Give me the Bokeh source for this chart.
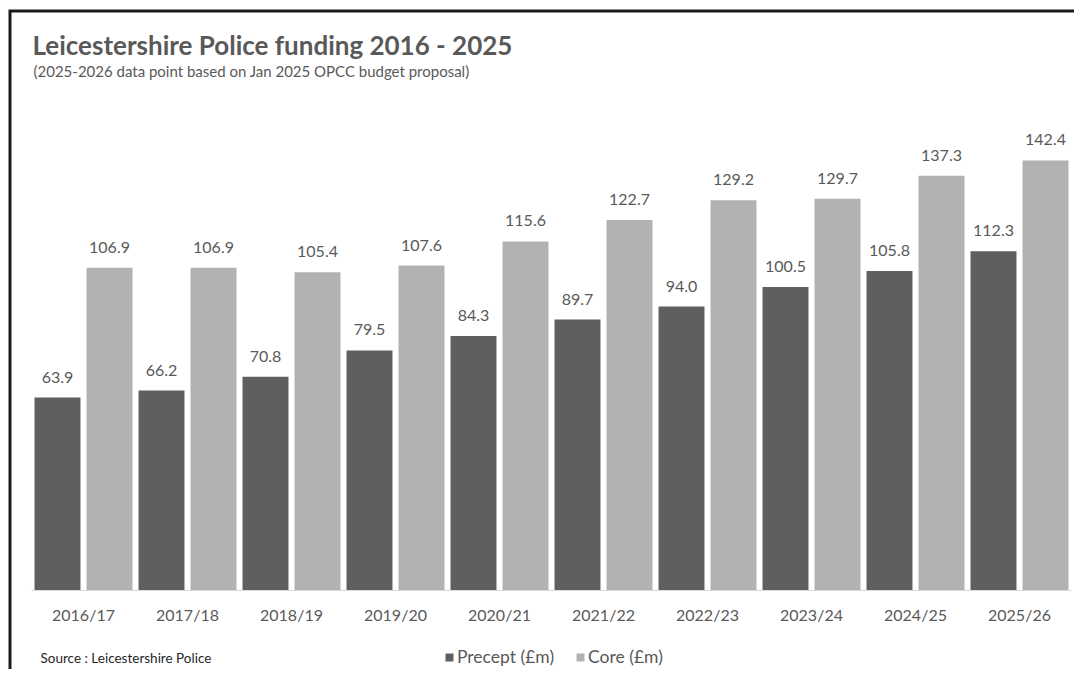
from bokeh.plotting import figure
from bokeh.models import (ColumnDataSource, Range1d, Label, Legend, LegendItem,
                          LinearAxis, FixedTicker)
from bokeh.embed import file_html
from bokeh.resources import INLINE
from bokeh.core.properties import value

years = ["2016/17", "2017/18", "2018/19", "2019/20", "2020/21",
         "2021/22", "2022/23", "2023/24", "2024/25", "2025/26"]
precept = [63.9, 66.2, 70.8, 79.5, 84.3, 89.7, 94.0, 100.5, 105.8, 112.3]
core = [106.9, 106.9, 105.4, 107.6, 115.6, 122.7, 129.2, 129.7, 137.3, 142.4]

title_text = "Leicestershire Police funding 2016 - 2025"
subtitle_text = "(2025-2026 data point  based on Jan 2025 OPCC budget proposal)"
source_text = "Source : Leicestershire Police"

FONT = "Lato"
TXT = "#595959"
DARK = "#5f5f5f"
LIGHT = "#b2b2b2"

W, H = 1074, 669
PX_X = 104.0      # pixels per category
PX_Y = 3.02       # pixels per £m
LEFT = 31         # frame-left pixel of first category
BASE = 590        # pixel row of zero line

n = len(years)
idx = list(range(n))
src = ColumnDataSource(dict(
    xp=[i + 0.25 for i in idx], xc=[i + 0.75 for i in idx],
    precept=precept, core=core,
    precept_lbl=[f"{v:.1f}" for v in precept],
    core_lbl=[f"{v:.1f}" for v in core],
))

x0 = -LEFT / PX_X
x1 = x0 + W / PX_X
y0 = -(H - BASE) / PX_Y
y1 = y0 + H / PX_Y
p = figure(width=W, height=H, output_backend="svg", toolbar_location=None,
           x_range=Range1d(x0, x1), y_range=Range1d(y0, y1),
           x_axis_type=None, y_axis_type=None,
           min_border=0, min_border_left=0, min_border_right=0,
           min_border_top=0, min_border_bottom=0)
p.outline_line_color = None
p.background_fill_color = "white"
p.border_fill_color = "white"
p.xgrid.visible = False
p.ygrid.visible = False

# chart-box border (top and left edges only, as in the cropped reference)
bx = x0 + 9.5 / PX_X
by = y0 + (H - 10.5) / PX_Y
p.line(x=[bx, bx, x1 + 1], y=[y0 - 10, by, by], line_color="#1a1a1a",
       line_width=3, line_join="miter")

r1 = p.vbar(x="xp", top="precept", width=0.442, source=src,
            fill_color=DARK, line_color=None)
r2 = p.vbar(x="xc", top="core", width=0.442, source=src,
            fill_color=LIGHT, line_color=None)

for xcol, ycol, tcol in (("xp", "precept", "precept_lbl"), ("xc", "core", "core_lbl")):
    p.text(x=xcol, y=ycol, text=tcol, source=src,
           text_align="center", text_baseline="bottom", y_offset=-15,
           text_font=value(FONT), text_font_size="16px", text_color=TXT)

ax = LinearAxis(fixed_location=0, bounds=(0, n),
                ticker=FixedTicker(ticks=[i + 0.5 for i in idx]),
                major_label_overrides={i + 0.5: y for i, y in zip(idx, years)})
ax.axis_line_color = "#d9d9d9"
ax.axis_line_width = 1
ax.major_tick_line_color = None
ax.minor_tick_line_color = None
ax.major_label_text_font = FONT
ax.major_label_text_font_size = "16px"
ax.major_label_text_color = TXT
ax.major_label_standoff = 8
p.add_layout(ax, "below")

p.add_layout(Label(x=32, y=H - 44, x_units="screen", y_units="screen", text=title_text,
                   text_font=FONT, text_font_size="26px", text_font_style="bold",
                   text_color=TXT, text_baseline="middle"))
p.add_layout(Label(x=33, y=H - 70.5, x_units="screen", y_units="screen", text=subtitle_text,
                   text_font=FONT, text_font_size="15px",
                   text_color=TXT, text_baseline="middle"))
p.add_layout(Label(x=40, y=H - 657, x_units="screen", y_units="screen", text=source_text,
                   text_font=FONT, text_font_size="13.5px",
                   text_color="#262626", text_baseline="middle"))

legend = Legend(items=[LegendItem(label="Precept (£m)", renderers=[r1]),
                       LegendItem(label="Core (£m)", renderers=[r2])],
                orientation="horizontal", location=(444, 2),
                glyph_width=10, glyph_height=10, label_standoff=3, spacing=21,
                label_text_font=FONT, label_text_font_size="17.5px", label_text_color=TXT,
                border_line_color=None, background_fill_alpha=0, padding=0, margin=0)
p.add_layout(legend)

open("out.html", "w").write(file_html(p, INLINE))
